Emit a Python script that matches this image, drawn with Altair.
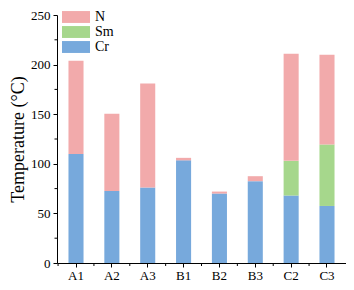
import altair as alt
import pandas as pd

categories = ["A1", "A2", "A3", "B1", "B2", "B3", "C2", "C3"]
series = ["Cr", "Sm", "N"]
cr_vals = [110, 72.5, 76, 103.5, 70, 82.5, 68, 57.5]
sm_vals = [0, 0, 0, 0, 0, 0, 35, 62]
n_vals = [94, 78, 105, 2.5, 2, 5, 108, 90.5]
y_minor = [25, 75, 125, 175, 225]

colors = {"N": "#f2aaab", "Sm": "#a6d78c", "Cr": "#77a9dc"}

rows = []
for i, c in enumerate(categories):
    for k, (s, v) in enumerate(zip(series, [cr_vals[i], sm_vals[i], n_vals[i]])):
        rows.append({"cat": c, "series": s, "value": v, "ord": k})
df = pd.DataFrame(rows)
minor_df = pd.DataFrame({"v": y_minor})
cat_df = pd.DataFrame({"cat": categories})

FONT = "Liberation Serif"
W, H = 289, 248
PAD_INNER = 0.58
PAD_OUTER = 0.32
step = W / (len(categories) - PAD_INNER + 2 * PAD_OUTER)

xscale = alt.Scale(domain=categories, paddingInner=PAD_INNER, paddingOuter=PAD_OUTER)
yscale = alt.Scale(domain=[0, 250], nice=False)

bars = alt.Chart(df).mark_bar().encode(
    x=alt.X("cat:N", sort=categories, scale=xscale,
            axis=alt.Axis(title=None, labelAngle=0, tickSize=4, labelPadding=2,
                          labelFontSize=13, labelFont=FONT, labelColor="black",
                          domainColor="black", tickColor="black")),
    y=alt.Y("value:Q", stack="zero", scale=yscale,
            axis=alt.Axis(title="Temperature (°C)", values=[0, 50, 100, 150, 200, 250],
                          grid=False, tickSize=4, labelPadding=3,
                          labelFontSize=13, labelFont=FONT, labelColor="black",
                          titleFont=FONT, titleFontSize=18, titleFontWeight="normal",
                          titleColor="black", titlePadding=3,
                          domainColor="black", tickColor="black")),
    color=alt.Color("series:N",
                    scale=alt.Scale(domain=["N", "Sm", "Cr"],
                                    range=[colors["N"], colors["Sm"], colors["Cr"]]),
                    legend=alt.Legend(title=None, orient="none", legendX=12, legendY=-5,
                                      padding=0,
                                      symbolType="M-2,-0.85H2V0.85H-2Z", symbolSize=196,
                                      symbolStrokeWidth=0, symbolOpacity=1,
                                      labelFont=FONT, labelFontSize=14, labelColor="black",
                                      labelOffset=12, rowPadding=1)),
    order=alt.Order("ord:Q", sort="ascending"),
)

minor_y = alt.Chart(minor_df).mark_rule(color="black", strokeWidth=1).encode(
    y=alt.Y("v:Q", scale=yscale),
    x=alt.value(-2.5),
    x2=alt.value(0),
)

minor_x = alt.Chart(cat_df).mark_rule(
    color="black", strokeWidth=1, xOffset=-PAD_INNER * step / 2
).encode(
    x=alt.X("cat:N", sort=categories, scale=xscale, bandPosition=0),
    y=alt.value(H),
    y2=alt.value(H + 3),
)

chart = alt.layer(bars, minor_y, minor_x).properties(
    width=W, height=H,
    autosize=alt.AutoSizeParams(type="none"),
    padding={"left": 49, "top": 7, "right": 0, "bottom": 19},
).configure_view(stroke=None)

chart.save("out.html", embed_options={"renderer": "svg", "actions": False})
